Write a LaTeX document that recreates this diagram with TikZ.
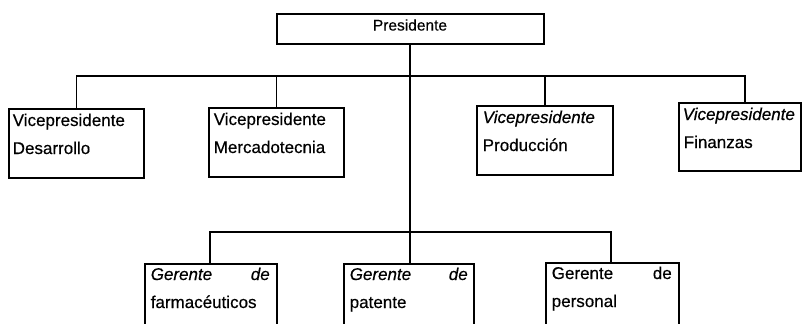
\documentclass[tikz,border=0pt]{standalone}
\usepackage{fontspec}
\setmainfont{Liberation Sans}[FakeBold=0.4]
\begin{document}
\begin{tikzpicture}[x=1pt,y=-1pt,line width=1.5pt,
  box/.style={draw,line width=1.6pt,inner sep=0pt,anchor=north west},
  txt/.style={anchor=base west,inner sep=0pt,font=\fontsize{17}{19}\selectfont},
  ptxt/.style={inner sep=0pt,font=\fontsize{15.5}{17}\selectfont}]
\useasboundingbox (0,0) rectangle (807,324);
\clip (0,0) rectangle (807,324);
% top
\node[box,minimum width=267pt,minimum height=30pt] (pres) at (276,13) {};
\node[ptxt] (tpres) at (410,25) {Presidente};
% vice presidents
\node[box,minimum width=135pt,minimum height=69pt] (dev) at (8,108) {};
\node[box,minimum width=135pt,minimum height=69pt] (mer) at (208,107) {};
\node[box,minimum width=136pt,minimum height=69pt] (pro) at (476,105) {};
\node[box,minimum width=122pt,minimum height=68pt] (fin) at (678,102) {};
\node[txt] (tdev1) at (12,126) {Vicepresidente};
\node[txt] (tdev2) at (12,154) {Desarrollo};
\node[txt] (tmer1) at (213,125) {Vicepresidente};
\node[txt] (tmer2) at (213,153) {Mercadotecnia};
\node[txt] (tpro1) at (482,123) {\itshape Vicepresidente};
\node[txt] (tpro2) at (482,151) {Producción};
\node[txt] (tfin1) at (682,120) {\itshape Vicepresidente};
\node[txt] (tfin2) at (683,148) {Finanzas};
% managers
\node[box,minimum width=132pt,minimum height=90pt] (far) at (144,263) {};
\node[box,minimum width=130pt,minimum height=90pt] (pat) at (343,263) {};
\node[box,minimum width=133pt,minimum height=90pt] (per) at (545,262) {};
\node[txt] (tfar1) at (150,280) {\makebox[119pt][s]{\itshape Gerente\hfill de}};
\node[txt] (tfar2) at (150,308) {farmacéuticos};
\node[txt] (tpat1) at (349,280) {\makebox[118pt][s]{\itshape Gerente\hfill de}};
\node[txt] (tpat2) at (349,308) {patente};
\node[txt] (tper1) at (551,279) {\makebox[120pt][s]{Gerente\hfill de}};
\node[txt] (tper2) at (551,307) {personal};
% connectors
\coordinate (bus1) at (410,76);
\coordinate (bus2) at (410,232);
\path (fin.north west) ++(67,0) coordinate (finTop);
\path (far.north west) ++(66,0) coordinate (farTop);
\path (per.north west) ++(66,0) coordinate (perTop);
\draw (pres.south -| bus1) -- (pat.north -| bus1);
\draw (dev.north) -- (dev.north |- bus1) -- (finTop |- bus1) -- (finTop);
\draw (mer.north) -- (mer.north |- bus1);
\draw (pro.north) -- (pro.north |- bus1);
\draw (farTop) -- (farTop |- bus2) -- (perTop |- bus2) -- (perTop);
\end{tikzpicture}
\end{document}
